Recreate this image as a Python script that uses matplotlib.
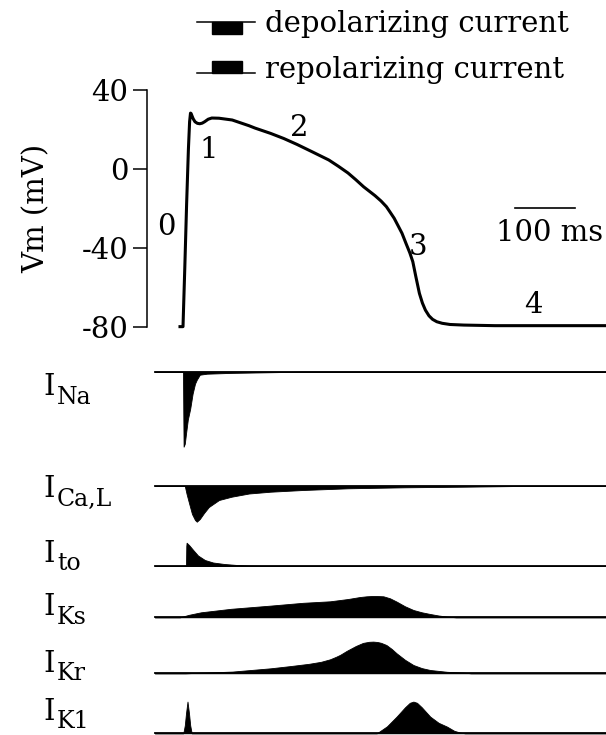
import matplotlib
matplotlib.use("Agg")
import matplotlib.pyplot as plt
from matplotlib.lines import Line2D
from matplotlib.patches import Rectangle

plt.rcParams['font.family'] = ['DejaVu Serif']

# potencial de accion (ms, mV)
ap_t = [-5, 0, 3, 6, 9, 11, 12.5, 13.5, 15, 17, 20, 24, 28, 32, 36, 42, 48, 60, 82,
        110, 120, 146, 168, 190, 215, 243, 259, 275, 288, 301, 320, 330, 339, 345,
        352, 358, 365, 372, 378, 383, 388, 394, 399, 404, 410, 416, 423, 432, 445,
        468, 520, 705]
ap_v = [-80, -80, -50, -18, 10, 24, 28.4, 28.2, 27, 25.5, 24, 23.2, 23, 23.3, 24,
        25.3, 25.9, 25.8, 24.9, 22, 20.8, 18.1, 15.5, 12.5, 8.8, 4.6, 1.4, -2, -5.4,
        -9, -13.5, -16.2, -19.1, -21.8, -25, -28.5, -32.6, -38, -42.5, -47, -54.5,
        -63.1, -68, -71.6, -74.5, -76.3, -77.5, -78.3, -78.9, -79.2, -79.5, -79.5]
yticks = [-80, -40, 0, 40]
ytick_labels = ['-80', '-40', '0', '40']
phase_labels = ['0', '1', '2', '3', '4']
phase_t = [-27, 42, 194, 391, 584]
phase_v = [-29.4, 9.6, 20.6, -39.4, -69]

# corrientes (ms, unidades arbitrarias; negativo = entrante)
ina_t = [-47, 0, 0.5, 1, 3, 5, 8, 12, 16, 20, 23, 28, 40, 80, 150, 200, 705]
ina_v = [0, 0, -40, -75, -72, -62, -48, -37, -22, -12, -8, -3, -2, -1.2, -0.5, 0, 0]

ical_t = [-47, 3, 6, 10, 15, 20, 23, 28, 35, 43, 60, 81, 110, 146, 200, 275, 370, 468, 560, 705]
ical_v = [0, 0, -8, -17, -28, -34, -35.7, -33, -27, -21, -14, -10.7, -7.5, -5.7, -4,
          -2.3, -1.3, -0.7, 0, 0]

ito_t = [-47, 5, 5.5, 6, 10, 17, 25, 36.5, 50, 69, 90, 113, 140, 705]
ito_v = [0, 0, 20, 23.3, 21, 16, 10.5, 6, 3.5, 2, 1, 0.3, 0, 0]

iks_t = [-47, -5, 10, 30, 80, 146, 200, 245, 275, 295, 306, 315, 323, 334, 345, 356,
         370, 384, 398, 412, 426, 440, 455, 705]
iks_v = [0, 0, 2.5, 5, 8.5, 11.7, 14.5, 16, 18.3, 20.3, 21, 21.3, 21.3, 21, 19, 15.7,
         11, 7.3, 5, 3.3, 1.8, 0.7, 0, 0]

ikr_t = [-47, 4, 40, 82, 146, 180, 210, 230, 245, 255, 262, 273, 288, 300, 310, 317,
         324, 330, 339, 348, 356, 370, 384, 398, 412, 440, 467, 480, 705]
ikr_v = [0, 0, 0.8, 1.7, 5, 7.3, 9.5, 11.5, 14, 16.5, 18.5, 22.5, 27.3, 30.4, 31.5,
         31.7, 31.3, 30.5, 28.3, 24.3, 20, 13.5, 8.3, 5.2, 3.3, 1.5, 0.7, 0, 0]

ik1_t = [-47, 0.5, 3, 5, 7.5, 10, 12, 14.5, 323, 340, 356, 370, 378, 384, 390, 398,
         412, 426, 440, 452, 462, 470, 705]
ik1_v = [0, 0, 8, 20, 31.7, 20, 8, 0, 0, 7, 16.7, 26, 30.5, 31.7, 30.5, 26, 16.7,
         10.5, 6.7, 2.5, 0.7, 0, 0]

current_names = ['Na', 'Ca,L', 'to', 'Ks', 'Kr', 'K1']
current_t = [ina_t, ical_t, ito_t, iks_t, ikr_t, ik1_t]
current_v = [ina_v, ical_v, ito_v, iks_v, ikr_v, ik1_v]

W, H = 606, 735
fig = plt.figure(figsize=(W / 100, H / 100), dpi=100)


def fx(x):
    return x / W


def fy(y):
    return 1 - y / H


# --- panel del potencial ---
left = 147
ax = fig.add_axes([fx(left), fy(336.5), fx(W - left), (336.5 - 80.4) / H])
ax.plot(ap_t, ap_v, color='black', lw=2.2, solid_joinstyle='round', clip_on=False)
ax.set_xlim(-60, 705)
ax.set_ylim(-85, 45)
ax.set_yticks(yticks)
ax.set_yticklabels(ytick_labels)
ax.tick_params(axis='y', length=10, width=1.1, pad=3.5, labelsize=21)
for s in ['top', 'right', 'bottom']:
    ax.spines[s].set_visible(False)
ax.spines['left'].set_bounds(-80, 40)
ax.spines['left'].set_linewidth(1.1)
ax.set_xticks([])
ax.patch.set_alpha(0)
ax.set_ylabel('Vm (mV)', fontsize=21, labelpad=22)

for lab, t, v in zip(phase_labels, phase_t, phase_v):
    ax.text(t, v, lab, fontsize=21, ha='center', va='center')

# barra de escala de 100 ms
ax.plot([553, 653], [-19.8, -19.8], color='black', lw=1.2)
ax.text(611, -32.5, '100 ms', fontsize=21, ha='center', va='center')

# --- trazas de corrientes ---
baselines = [371.7, 486, 566, 617.3, 673.3, 733.3]
label_y = [395, 497, 561.7, 615, 671.7, 720]
for name, t, v, yb, ly in zip(current_names, current_t, current_v, baselines, label_y):
    cax = fig.add_axes([fx(left), fy(yb + 80), fx(W - left), 120 / H])
    cax.set_xlim(-60, 705)
    cax.set_ylim(-80, 40)
    cax.fill_between(t, 0, v, color='black', lw=0.6, edgecolor='black')
    cax.plot([-47, 705], [0, 0], color='black', lw=1.3, clip_on=False)
    cax.axis('off')
    fig.text(fx(43), fy(ly), 'I', fontsize=21, va='baseline', ha='left')
    fig.text(fx(57), fy(ly + 8.5), name, fontsize=17, va='baseline', ha='left')

# --- leyenda ---
fig.add_artist(Line2D([fx(197), fx(255)], [fy(21.7), fy(21.7)], color='black', lw=1.1))
fig.add_artist(Rectangle((fx(211.7), fy(34.3)), fx(30), 12.6 / H, color='black'))
fig.add_artist(Line2D([fx(197), fx(255)], [fy(72.7), fy(72.7)], color='black', lw=1.1))
fig.add_artist(Rectangle((fx(211.7), fy(72.7)), fx(30), 11.7 / H, color='black'))
fig.text(fx(265), fy(32), 'depolarizing current', fontsize=21, va='baseline')
fig.text(fx(265), fy(78), 'repolarizing current', fontsize=21, va='baseline')

fig.savefig('out.png', dpi=100)
